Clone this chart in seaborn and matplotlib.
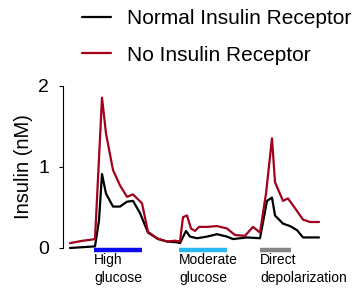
import numpy as np
import pandas as pd
import matplotlib
matplotlib.use("Agg")
import matplotlib.pyplot as plt
import seaborn as sns
from matplotlib.lines import Line2D

# ---- data (time in arbitrary units, insulin in nM) ----
normal_t = [0, 25, 29, 32, 36, 43, 50, 57, 63, 70, 78, 88, 97, 107, 110, 116, 120, 127,
            137, 147, 157, 163, 177, 190, 197, 202, 205, 213, 220, 227, 233, 249]
normal_v = [0.00, 0.02, 0.34, 0.91, 0.67, 0.51, 0.51, 0.57, 0.58, 0.43, 0.19, 0.11, 0.08,
            0.07, 0.06, 0.21, 0.14, 0.12, 0.14, 0.17, 0.14, 0.11, 0.13, 0.12, 0.58, 0.62,
            0.40, 0.30, 0.27, 0.22, 0.13, 0.13]
noir_t = [0, 13, 20, 25, 32, 36, 43, 50, 57, 63, 72, 78, 87, 97, 105, 110, 113, 117, 121,
          125, 129, 137, 147, 157, 165, 175, 183, 190, 196, 202, 205, 213, 218, 225, 233,
          240, 249]
noir_v = [0.06, 0.09, 0.10, 0.11, 1.85, 1.41, 0.96, 0.77, 0.63, 0.66, 0.55, 0.20, 0.12,
          0.08, 0.09, 0.08, 0.38, 0.40, 0.24, 0.21, 0.26, 0.26, 0.27, 0.24, 0.16, 0.15,
          0.26, 0.19, 0.67, 1.35, 0.81, 0.58, 0.61, 0.49, 0.35, 0.32, 0.32]
series_names = ["Normal Insulin Receptor", "No Insulin Receptor"]
series_colors = ["#000000", "#a3001c"]

stim_labels = ["High\nglucose", "Moderate\nglucose", "Direct\ndepolarization"]
stim_start = [24, 109, 190]
stim_end = [72, 157, 221]
stim_colors = ["#0a0af0", "#2ab8f0", "#858585"]

yticks = [0, 1, 2]

df = pd.concat([
    pd.DataFrame({"t": normal_t, "v": normal_v, "s": series_names[0]}),
    pd.DataFrame({"t": noir_t, "v": noir_v, "s": series_names[1]}),
])

sns.set_style("white")
plt.rcParams["font.family"] = ["Liberation Sans", "DejaVu Sans"]
plt.rcParams["text.color"] = "black"
plt.rcParams["axes.labelcolor"] = "black"
plt.rcParams["ytick.color"] = "black"

fig = plt.figure(figsize=(3.6, 2.95), dpi=100)
ax = fig.add_axes([63 / 360, 47 / 295, (360 - 63) / 360, 162.5 / 295])

sns.lineplot(data=df, x="t", y="v", hue="s", hue_order=series_names,
             palette=series_colors, linewidth=1.6, ax=ax, legend=False,
             sort=False, estimator=None)
for ln in ax.lines:
    ln.set_clip_on(False)

ax.set_xlim(-7, 290)
ax.set_ylim(0, 2)
ax.set_yticks(yticks)
ax.set_yticklabels([str(v) for v in yticks], fontsize=14)
ax.tick_params(axis="y", direction="out", length=3, width=0.8, pad=7, left=True,
               color="black", labelcolor="black")
ax.set_xticks([])
ax.set_xlabel("")
ax.set_ylabel("Insulin (nM)", fontsize=14.5, labelpad=4, color="black")
for side in ["top", "right", "bottom"]:
    ax.spines[side].set_visible(False)
ax.spines["left"].set_color("black")
ax.spines["left"].set_linewidth(0.8)

for lab, s0, s1, c in zip(stim_labels, stim_start, stim_end, stim_colors):
    ax.plot([s0, s1], [-0.027, -0.027], color=c, lw=3.2, solid_capstyle="butt",
            clip_on=False)
    ax.text(s0, -0.065, lab, ha="left", va="top", fontsize=10, color="black",
            linespacing=1.3)

handles = [Line2D([], [], color=c, lw=1.6) for c in series_colors]
fig.legend(handles, series_names, loc="upper left",
           bbox_to_anchor=(82 / 360, 1 - 9 / 295), frameon=False, fontsize=15,
           handlelength=1.4, handletextpad=0.75, labelspacing=0.85,
           borderpad=0, borderaxespad=0, labelcolor="black")

fig.savefig("out.png", dpi=100)
